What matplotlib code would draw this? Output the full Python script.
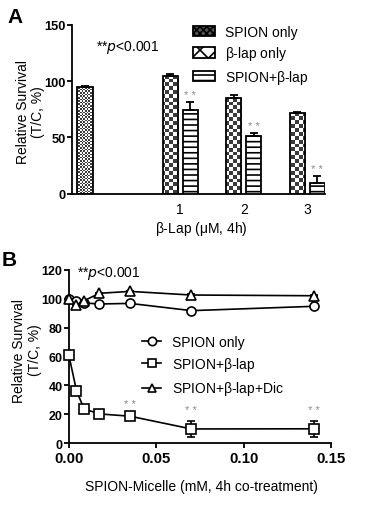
import matplotlib
matplotlib.use('Agg')
from matplotlib import pyplot as plt
from matplotlib.lines import Line2D
import numpy as np

plt.rcParams['font.family'] = ['Liberation Sans', 'DejaVu Sans']
plt.rcParams['hatch.linewidth'] = 1.2

# Panel A data: relative survival (%) vs beta-lap dose
doses = [1, 2, 3]
spion_only_a = 94.5
spion_only_a_err = 1.0
blap_only = [104.5, 85.0, 72.0]
blap_only_err = [2.0, 2.5, 1.0]
spion_blap_a = [74.5, 51.5, 10.0]
spion_blap_a_err = [7.0, 2.5, 5.5]

# Panel B data: relative survival (%) vs SPION-micelle concentration
conc = [0, 0.004375, 0.00875, 0.0175, 0.035, 0.07, 0.14]
spion_only_b = [99.5, 98.6, 97.0, 96.3, 96.7, 91.7, 94.7]
spion_only_b_err = [0.5, 0.5, 0.5, 0.5, 0.5, 0.8, 0.8]
spion_blap_b = [61.0, 36.4, 23.7, 20.3, 18.7, 9.9, 10.0]
spion_blap_b_err = [0.8, 0.8, 0.8, 0.8, 0.8, 5.5, 5.5]
spion_blap_dic = [99.5, 95.8, 98.6, 103.7, 105.0, 102.5, 102.0]
spion_blap_dic_err = [0.5, 0.5, 0.5, 0.5, 0.5, 0.5, 0.5]
sig_b = [0.035, 0.07, 0.14]

fig = plt.figure(figsize=(3.72, 5.06), dpi=100)


def checker_fill(ax, bars, cell_px):
    # fill each bar with a black/white checkerboard clipped to the bar outline
    x0, x1 = ax.get_xlim()
    y0, y1 = ax.get_ylim()
    bb = ax.get_window_extent()
    cols = int(bb.width / cell_px)
    rows = int(bb.height / cell_px)
    board = np.indices((rows, cols)).sum(axis=0) % 2
    for b in bars:
        im = ax.imshow(board, cmap='gray_r', extent=[x0, x1, y0, y1], aspect='auto',
                       interpolation='nearest', zorder=2, vmin=0, vmax=1.3)
        im.set_clip_path(b)


# ---------- Panel A ----------
axA = fig.add_axes([0.194, 0.615, 0.680, 0.334])
axA.set_xlim(-0.70, 3.28)
axA.set_ylim(0, 150)
w = 0.24
off = 0.157
x_spion = -0.5
xd = np.array(doses, dtype=float)
kw = dict(edgecolor='black', linewidth=1.3, zorder=3)
ekw = dict(elinewidth=1.3, capthick=1.3, capsize=3, ecolor='black', zorder=4)

b1 = axA.bar(x_spion, spion_only_a, w, facecolor='none',
             yerr=[[0], [spion_only_a_err]], error_kw=ekw, **kw)
b2 = axA.bar(xd - off, blap_only, w, facecolor='none',
             yerr=[[0] * 3, blap_only_err], error_kw=ekw, **kw)
b3 = axA.bar(xd + off, spion_blap_a, w, color='white', hatch='---',
             yerr=[[0] * 3, spion_blap_a_err], error_kw=ekw, **kw)
checker_fill(axA, b1, 1.6)
checker_fill(axA, b2, 3.8)

for x, v, e in zip(xd + off, spion_blap_a, spion_blap_a_err):
    axA.text(x, v + e + 2, '* *', ha='center', va='bottom', fontsize=8, color='#888888')

axA.text(0.17, 131, r'**$p$<0.001', ha='center', va='center', fontsize=10)

axA.set_yticks([0, 50, 100, 150])
axA.set_xticks(doses)
axA.tick_params(axis='x', length=0, pad=6, labelsize=10)
axA.tick_params(axis='y', length=3.5, width=1.3, labelsize=9.3, pad=1)
for t in axA.get_yticklabels():
    t.set_fontweight('bold')
for s in ['top', 'right']:
    axA.spines[s].set_visible(False)
for s in ['left', 'bottom']:
    axA.spines[s].set_linewidth(1.3)
axA.set_ylabel('Relative Survival\n(T/C, %)', fontsize=10, linespacing=1.1)
axA.yaxis.set_label_coords(-0.108, 0.488)
axA.set_xlabel(r'$\mathregular{\beta}$-Lap ($\mathregular{\mu}$M, 4h)', fontsize=10)
axA.xaxis.set_label_coords(0.51, -0.148)

# legend proxies in the look of the bar fills
hA = [plt.Rectangle((0, 0), 1, 1, facecolor='#555555', edgecolor='black', hatch='xxxxx', lw=1.3),
      plt.Rectangle((0, 0), 1, 1, facecolor='white', edgecolor='black', hatch='xx', lw=1.3),
      plt.Rectangle((0, 0), 1, 1, facecolor='white', edgecolor='black', hatch='---', lw=1.3)]
axA.legend(hA, ['SPION only', r'$\mathregular{\beta}$-lap only', r'SPION+$\mathregular{\beta}$-lap'],
           loc='upper left', bbox_to_anchor=(0.478, 1.0), frameon=False,
           fontsize=10, handlelength=1.6, handleheight=0.75,
           labelspacing=0.4, handletextpad=0.7, borderpad=0, borderaxespad=0)

# ---------- Panel B ----------
axB = fig.add_axes([0.185, 0.122, 0.706, 0.343])
lkw = dict(color='black', linewidth=1.2, markersize=6.5, markerfacecolor='white',
           markeredgecolor='black', markeredgewidth=1.2, capsize=3,
           elinewidth=1.2, capthick=1.2, clip_on=False)
axB.errorbar(conc, spion_only_b, yerr=spion_only_b_err, marker='o', zorder=4, **lkw)
axB.errorbar(conc, spion_blap_b, yerr=spion_blap_b_err, marker='s', zorder=4, **lkw)
axB.errorbar(conc, spion_blap_dic, yerr=spion_blap_dic_err, marker='^', zorder=5, **lkw)

for x in sig_b:
    i = conc.index(x)
    axB.text(x, spion_blap_b[i] + spion_blap_b_err[i] + 4, '* *', ha='center',
             va='bottom', fontsize=8, color='#888888')

axB.text(0.023, 118, r'**$p$<0.001', ha='center', va='center', fontsize=10)

axB.set_xlim(0, 0.15)
axB.set_ylim(0, 120)
axB.set_xticks([0, 0.05, 0.10, 0.15])
axB.set_xticklabels(['0.00', '0.05', '0.10', '0.15'])
axB.set_yticks(range(0, 121, 20))
axB.tick_params(axis='both', length=3.5, width=1.3, pad=1)
axB.tick_params(axis='y', labelsize=9)
axB.tick_params(axis='x', labelsize=10.8, pad=2)
for t in axB.get_xticklabels() + axB.get_yticklabels():
    t.set_fontweight('bold')
for s in ['top', 'right']:
    axB.spines[s].set_visible(False)
for s in ['left', 'bottom']:
    axB.spines[s].set_linewidth(1.3)
axB.set_ylabel('Relative Survival\n(T/C, %)', fontsize=10, linespacing=1.1)
axB.yaxis.set_label_coords(-0.104, 0.54)
axB.set_xlabel('SPION-Micelle (mM, 4h co-treatment)', fontsize=10)
axB.xaxis.set_label_coords(0.506, -0.206)

mk = dict(color='black', linewidth=1.2, markersize=6, markerfacecolor='white',
          markeredgecolor='black', markeredgewidth=1.2)
hB = [Line2D([], [], marker='o', **mk), Line2D([], [], marker='s', **mk),
      Line2D([], [], marker='^', **mk)]
axB.legend(hB, ['SPION only', r'SPION+$\mathregular{\beta}$-lap',
                r'SPION+$\mathregular{\beta}$-lap+Dic'],
           loc='upper left', bbox_to_anchor=(0.278, 0.624), frameon=False,
           fontsize=10, handlelength=1.4, labelspacing=0.45,
           handletextpad=0.8, borderpad=0, borderaxespad=0)

fig.text(0.02, 0.985, 'A', fontsize=15, fontweight='bold', va='top')
fig.text(0.005, 0.503, 'B', fontsize=15, fontweight='bold', va='top')

plt.savefig('out.png', dpi=100)
